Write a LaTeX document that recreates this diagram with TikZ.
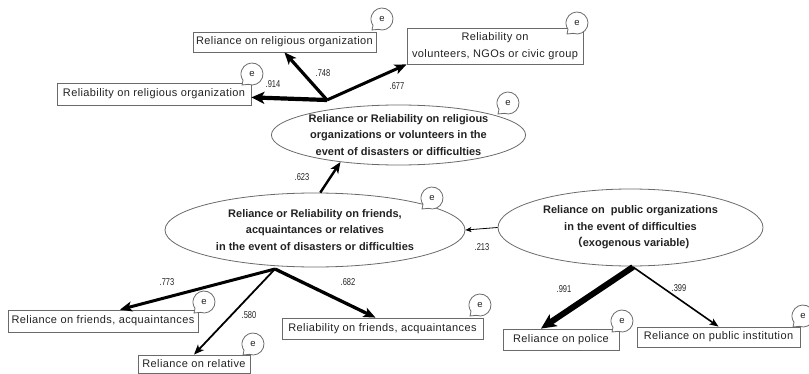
\documentclass[tikz,border=0pt]{standalone}
\usepackage{fontspec}
\setmainfont{Liberation Sans}
\newfontfamily\boxface{Liberation Sans}[LetterSpace=3.5]
\newfontfamily\cjk{Noto Sans CJK JP}
\usetikzlibrary{arrows.meta,shapes.geometric,calc}
\definecolor{ink}{HTML}{222222}
\definecolor{frame}{HTML}{6A6A6A}

\tikzset{
  box/.style={draw=frame, line width=0.8pt, fill=white, inner sep=0pt, align=center,
    text=ink, font=\boxface\fontsize{11}{17}\selectfont},
  latent/.style={ellipse, draw=frame, line width=0.8pt, inner sep=0pt, align=center,
    text=ink, font=\fontsize{11}{16.5}\selectfont\bfseries},
  coef/.style={font=\fontsize{10}{10}\selectfont, xscale=0.75, inner sep=0pt, text=ink},
  link/.style n args={3}{draw=black, line width=#1,
    -{Stealth[length=#2, width=#3, inset=0.25*#2]}},
  errbubble/.pic={
    \filldraw[draw=frame, fill=white, line width=0.8pt]
      (250:11pt) arc[start angle=250, end angle=575, radius=11pt] -- (-10pt,-11pt) -- cycle;
    \node[font=\fontsize{9.5}{9.5}\selectfont, inner sep=0pt, text=ink] (-e) at (0,0.5) {e};
  },
}

\begin{document}
\begin{tikzpicture}[x=1pt, y=1pt]
\useasboundingbox (0,0) rectangle (809,373);

% latent variables
\node[latent, minimum width=253pt, minimum height=60pt] (e1) at (398.5,238)
  {Reliance or Reliability on religious\\organizations or volunteers in the\\event of disasters or difficulties};
\node[latent, minimum width=300pt, minimum height=74pt] (e2) at (315,143)
  {Reliance or Reliability on friends,\\acquaintances or relatives\\in the event of disasters or difficulties};
\node[latent, minimum width=265pt, minimum height=77pt] (e3) at (630.5,145.5)
  {Reliance on \ public organizations\\in the event of difficulties\\{\cjk （}exogenous variable)};

% observed variables
\node[box, minimum width=183pt, minimum height=20pt] (b1) at (284.5,331) {Reliance on religious organization};
\node[box, minimum width=176pt, minimum height=36pt] (b2) at (495,327) {Reliability on\\volunteers, NGOs or civic group};
\node[box, minimum width=194pt, minimum height=22pt] (b3) at (154,279) {Reliability on religious organization};
\node[box, minimum width=190pt, minimum height=22pt] (b4) at (103,52) {Reliance on friends, acquaintances};
\node[box, minimum width=112pt, minimum height=18pt] (b5) at (194,9) {Reliance on relative};
\node[box, minimum width=201pt, minimum height=21pt] (b6) at (382.5,44.5) {Reliability on friends, acquaintances};
\node[box, minimum width=116pt, minimum height=21pt] (b7) at (561,33.5) {Reliance on police};
\node[box, minimum width=163pt, minimum height=20pt] (b8) at (718.5,36) {Reliance on public institution};

% fan-out points of the loadings
\coordinate (o1) at (327,273);
\coordinate (o2) at (275,104);
\coordinate (o3) at (633,106);

% loadings
\draw[link={4.2pt}{13pt}{12pt}] (o1) -- (b3);
\draw[link={3.2pt}{12pt}{10pt}] (o1) -- (b1.south);
\draw[link={3pt}{12pt}{10pt}] (o1) -- (b2.south west);
\draw[link={3pt}{12pt}{10pt}] (o2) -- ($(b4.north)+(17,0)$);
\draw[link={1.8pt}{10pt}{8pt}] (o2) -- (b5.north);
\draw[link={3.3pt}{12pt}{10pt}] (o2) -- ($(b6.north)+(-7,0)$);
\draw[link={6pt}{15pt}{14pt}] (o3) -- ($(b7.north)+(-20,0)$);
\draw[link={1.6pt}{9pt}{7pt}] (o3) -- (b8.north);

% structural paths
\draw[link={2.4pt}{11pt}{9pt}] (e2.82) -- (e1.205);
\draw[link={0.8pt}{6pt}{5pt}] (e3.west) -- (e2.east);

% coefficients
\node[coef] (c914) at (273,289) {.914};
\node[coef] (c748) at (323,300) {.748};
\node[coef] (c677) at (397,287) {.677};
\node[coef] (c623) at (302,196) {.623};
\node[coef] (c213) at (482,126) {.213};
\node[coef] (c773) at (167,91) {.773};
\node[coef] (c580) at (249,58) {.580};
\node[coef] (c682) at (348,91) {.682};
\node[coef] (c991) at (564,84) {.991};
\node[coef] (c399) at (679,85) {.399};

% error terms
\pic (u1) at (382,354) {errbubble};
\pic (u2) at (577,350) {errbubble};
\pic (u3) at (252,299) {errbubble};
\pic (u4) at (508,270) {errbubble};
\pic (u5) at (432,175) {errbubble};
\pic (u6) at (204,71) {errbubble};
\pic (u7) at (253,29) {errbubble};
\pic (u8) at (480,68) {errbubble};
\pic (u9) at (622,52) {errbubble};
\pic (u10) at (803,57) {errbubble};
\end{tikzpicture}
\end{document}
